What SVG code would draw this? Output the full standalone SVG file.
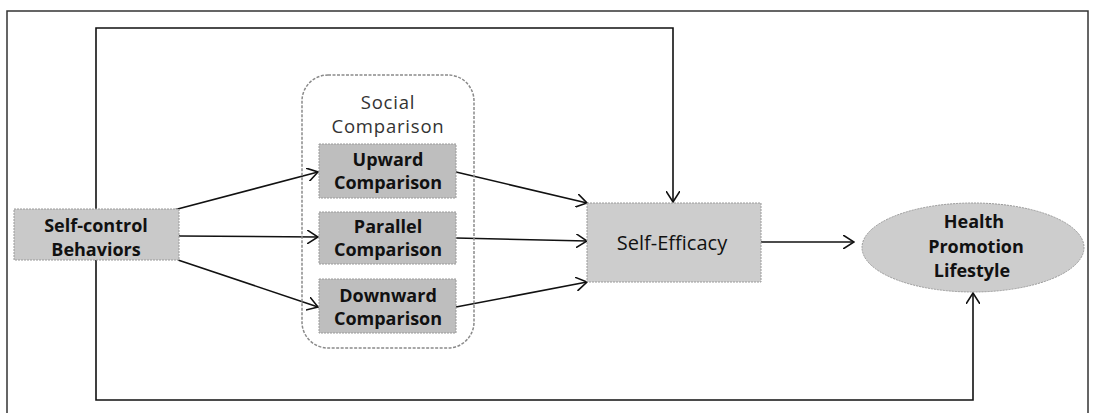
<svg xmlns="http://www.w3.org/2000/svg" width="1093" height="413" viewBox="0 0 1093 413">
<defs>
<style>
.frame{fill:none;stroke:#333;stroke-width:1.5}
.box{stroke:#9a9a9a;stroke-width:1;stroke-dasharray:2 1}
.main{fill:#c9c9c9}
.sub{fill:#bebebe}
.se{fill:#cdcdcd}
.cont{fill:none;stroke:#8a8a8a;stroke-width:1.5;stroke-dasharray:3 1.5}
.conn{fill:none;stroke:#111;stroke-width:1.6}
.t{font-family:"Open Sans","Noto Sans",sans-serif;text-anchor:middle;fill:#111}
.b{font-weight:700;font-size:18px}
.r{font-weight:400;font-size:18.5px;fill:#333}
</style>
<marker id="ah" viewBox="0 0 12 14" refX="11" refY="7" markerWidth="12" markerHeight="14" markerUnits="userSpaceOnUse" orient="auto">
<path d="M0,0 L11,7 L0,14" fill="none" stroke="#111" stroke-width="1.6"/>
</marker>
</defs>
<rect x="7" y="11" width="1081" height="410" class="frame"/>
<g id="connectors">
<path class="conn" d="M96,209 V28 H673 V202" marker-end="url(#ah)"/>
<path class="conn" d="M96,260 V400 H973 V293" marker-end="url(#ah)"/>
<path class="conn" d="M170,211 L318,172" marker-end="url(#ah)"/>
<path class="conn" d="M179,236 L318,237" marker-end="url(#ah)"/>
<path class="conn" d="M178,260 L318,307" marker-end="url(#ah)"/>
<path class="conn" d="M456,172 L587,203" marker-end="url(#ah)"/>
<path class="conn" d="M456,238 L587,241" marker-end="url(#ah)"/>
<path class="conn" d="M456,307 L587,282" marker-end="url(#ah)"/>
<path class="conn" d="M761,242 L854,242" marker-end="url(#ah)"/>
</g>
<g id="social-comparison">
<rect x="302" y="75" width="172" height="273" rx="26" class="cont"/>
<text class="t r" x="388" y="109" letter-spacing="0.8">Social</text>
<text class="t r" x="388" y="133" letter-spacing="0.8">Comparison</text>
</g>
<g id="self-control">
<rect x="14" y="209" width="165" height="51" class="box main"/>
<text class="t b" x="96" y="232" font-size="19">Self-control</text>
<text class="t b" x="96" y="256" font-size="19">Behaviors</text>
</g>
<g id="upward">
<rect x="319" y="144" width="137" height="54" class="box sub"/>
<text class="t b" x="388" y="166">Upward</text>
<text class="t b" x="388" y="189">Comparison</text>
</g>
<g id="parallel">
<rect x="319" y="212" width="137" height="52" class="box sub"/>
<text class="t b" x="388" y="233">Parallel</text>
<text class="t b" x="388" y="256">Comparison</text>
</g>
<g id="downward">
<rect x="319" y="279" width="137" height="54" class="box sub"/>
<text class="t b" x="388" y="302">Downward</text>
<text class="t b" x="388" y="325">Comparison</text>
</g>
<g id="self-efficacy">
<rect x="587" y="203" width="174" height="79" class="box se"/>
<text class="t" x="672" y="250" font-size="20" font-weight="500">Self-Efficacy</text>
</g>
<g id="health-promotion">
<ellipse cx="973" cy="247.5" rx="111" ry="44.5" class="box se"/>
<text class="t b" x="974" y="228" font-size="17">Health</text>
<text class="t b" x="976" y="253" font-size="17">Promotion</text>
<text class="t b" x="972" y="277" font-size="17">Lifestyle</text>
</g>
</svg>
